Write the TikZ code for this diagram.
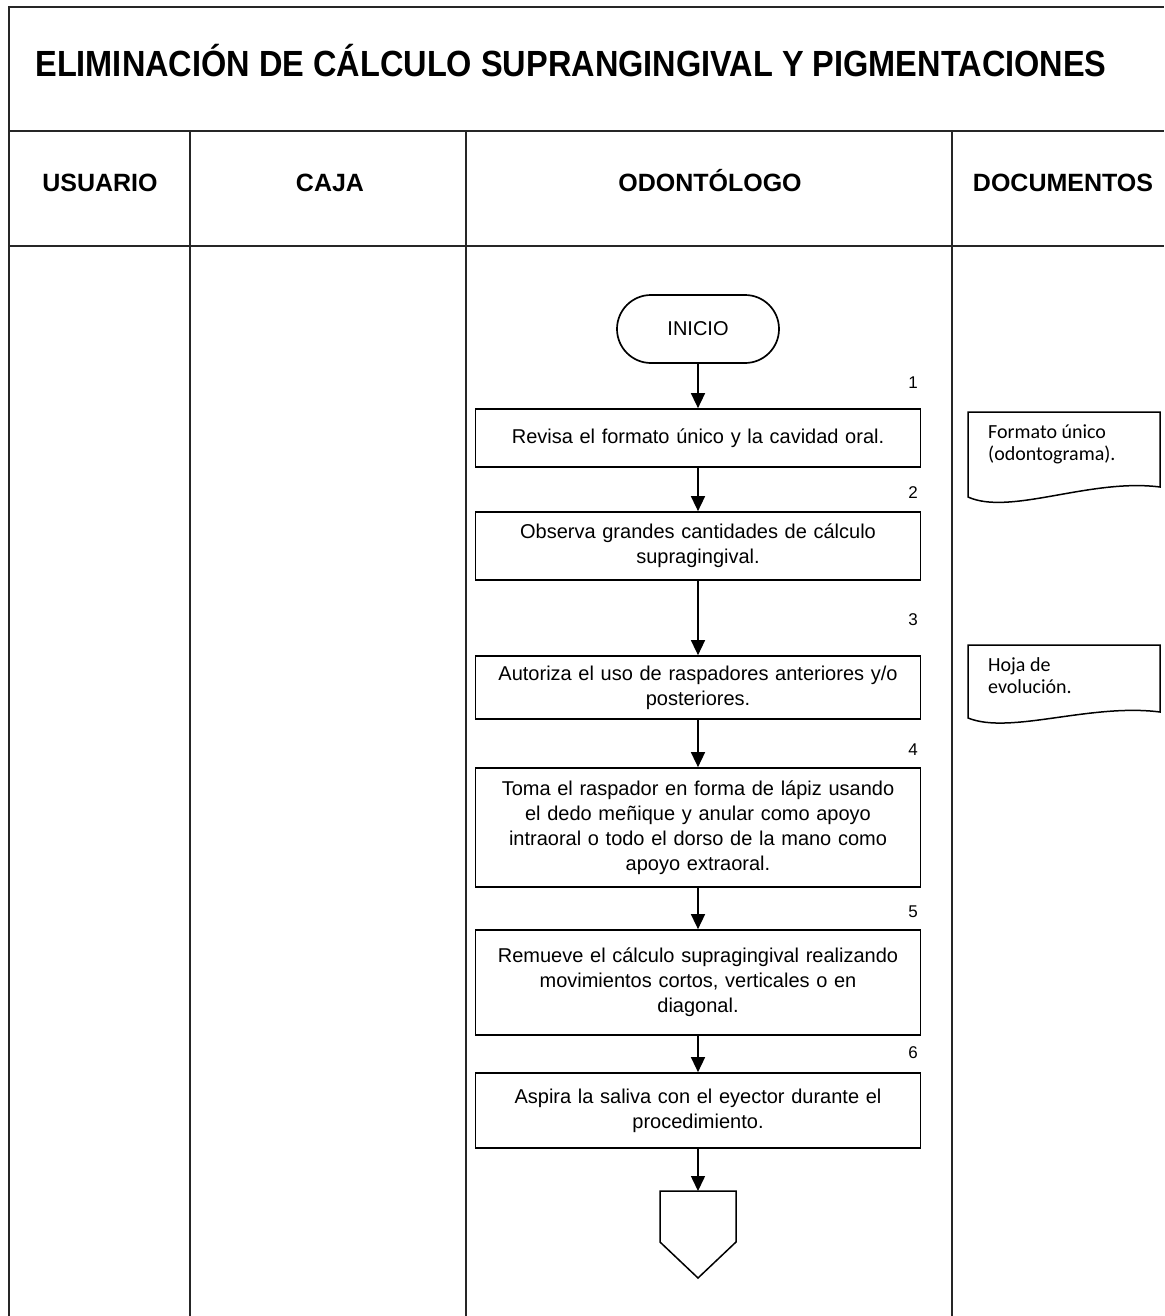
\documentclass[tikz,border=0pt]{standalone}
\usepackage{fontspec}
\setmainfont{Liberation Sans}
\newfontfamily\docfont{Carlito}
\usetikzlibrary{arrows.meta}
\begin{document}
\begin{tikzpicture}[x=1pt,y=-1pt,
  grid/.style={line width=1.7pt,draw=black!85},
  procbox/.style={draw,line width=1.7pt,minimum width=445pt,text width=435pt,align=center,
    inner sep=0pt,font=\fontsize{20}{25}\selectfont},
  termbox/.style={draw,line width=1.7pt,rounded corners=34pt,minimum width=162pt,minimum height=68pt,
    inner sep=0pt,font=\fontsize{20}{25}\selectfont},
  stepnum/.style={font=\fontsize{17}{18}\selectfont,inner sep=0pt},
  headtext/.style={font=\bfseries\fontsize{25}{30}\selectfont,inner sep=0pt,anchor=base},
  doctext/.style={font=\docfont\fontsize{20}{22}\selectfont,align=left,inner sep=0pt,anchor=north west},
  docline/.style={line width=1.5pt},
  flow/.style={line width=1.5pt,-{Triangle[length=15pt,width=14pt]}}
]
\useasboundingbox (0,0) rectangle (1164,1316);
\fill[white] (0,0) rectangle (1164,1316);

% table frame and swimlane dividers
\draw[grid] (9,1316) -- (9,7) -- (1164,7);
\draw[grid] (9,131) -- (1164,131);
\draw[grid] (9,246) -- (1164,246);
\foreach \xx in {190,466,952}
  \draw[grid] (\xx,131) -- (\xx,1316);

% title and lane headers
\node[font=\bfseries\fontsize{32.5}{38}\selectfont,inner sep=0pt,anchor=base] (title) at (571,77)
  {\scalebox{1}[1.12]{ELIMINACIÓN DE CÁLCULO SUPRANGINGIVAL Y PIGMENTACIONES}};
\node[headtext] (hUsu) at (100,192) {USUARIO};
\node[headtext] (hCaja) at (330,192) {CAJA};
\node[headtext] (hOdo) at (710,192) {ODONTÓLOGO};
\node[headtext] (hDoc) at (1063,192) {DOCUMENTOS};

% process flow in the dentist lane
\node[termbox] (ini) at (698,329) {INICIO};
\node[procbox,minimum height=58pt] (b1) at (698,438) {Revisa el formato único y la cavidad oral.};
\node[procbox,minimum height=68pt] (b2) at (698,546) {Observa grandes cantidades de cálculo\\ supragingival.};
\node[procbox,minimum height=63pt] (b3) at (698,687.5) {Autoriza el uso de raspadores anteriores y/o\\ posteriores.};
\node[procbox,minimum height=119pt] (b4) at (698,827.5) {Toma el raspador en forma de lápiz usando\\ el dedo meñique y anular como apoyo\\ intraoral o todo el dorso de la mano como\\ apoyo extraoral.};
\node[procbox,minimum height=105pt] (b5) at (698,982.5) {Remueve el cálculo supragingival realizando\\ movimientos cortos, verticales o en\\ diagonal.\\[4pt]};
\node[procbox,minimum height=75pt] (b6) at (698,1110.5) {Aspira la saliva con el eyector durante el\\ procedimiento.};

% off-page connector
\coordinate (fin) at (698,1191);
\draw[line width=1.5pt] (fin) -- (736,1191) -- (736,1242) -- (698,1278) -- (660,1242) -- (660,1191) -- cycle;

% step numbers
\node[stepnum] (n1) at (913,383) {1};
\node[stepnum] (n2) at (913,493) {2};
\node[stepnum] (n3) at (913,620) {3};
\node[stepnum] (n4) at (913,750) {4};
\node[stepnum] (n5) at (913,912) {5};
\node[stepnum] (n6) at (913,1053) {6};

% connectors
\draw[flow] (ini.south) -- (b1.north);
\draw[flow] (b1.south) -- (b2.north);
\draw[flow] (b2.south) -- (b3.north);
\draw[flow] (b3.south) -- (b4.north);
\draw[flow] (b4.south) -- (b5.north);
\draw[flow] (b5.south) -- (b6.north);
\draw[flow] (b6.south) -- (fin);

% documents
\draw[docline] (968,497) -- (968,412) -- (1160,412) -- (1160,487)
  .. controls (1090,478) and (1010,516) .. cycle;
\node[doctext] (d1) at (988,425) {Formato único\\(odontograma).};
\draw[docline] (968,718) -- (968,645) -- (1160,645) -- (1160,712)
  .. controls (1090,703) and (1010,735) .. cycle;
\node[doctext] (d2) at (988,657) {Hoja de\\evolución.};
\end{tikzpicture}
\end{document}
